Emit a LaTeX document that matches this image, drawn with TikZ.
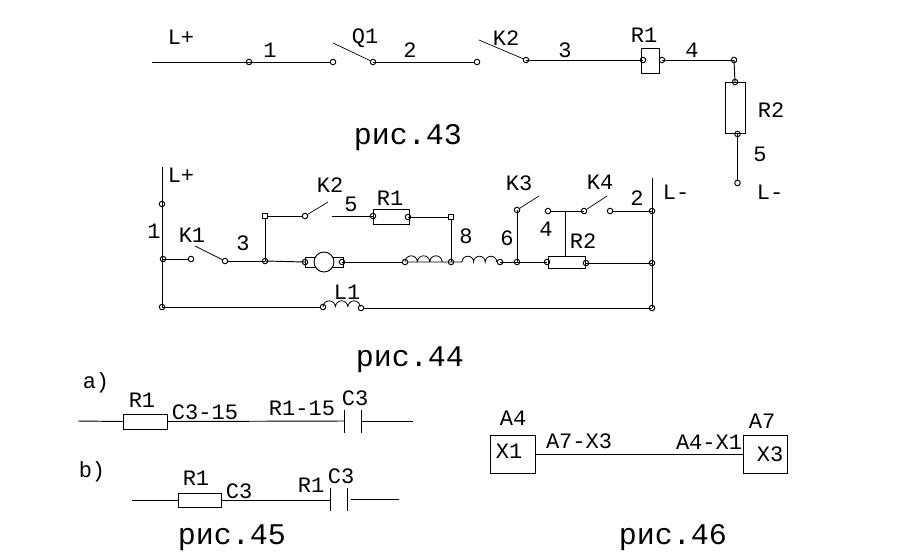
\documentclass[tikz,border=0pt]{standalone}
\usepackage{fontspec}
\setmainfont{Liberation Mono}
\usepackage{tikz}
\tikzset{
    term/.style={circle, draw, inner sep=0pt, minimum size=5.5pt},
    termsq/.style={rectangle, draw, fill=white, inner sep=0pt, minimum size=5pt},
    res/.style={rectangle, draw, inner sep=0pt},
    lbl/.style={inner sep=0pt, font=\fontsize{22}{24}\selectfont},
    figcap/.style={inner sep=0pt, font=\fontsize{30}{34}\selectfont},
}
\begin{document}
\begin{tikzpicture}[x=1pt, y=-1pt, line width=0.95pt]
    \useasboundingbox (0,0) rectangle (897,557);

    % fig 43
    \coordinate (a0) at (152,62);
    \coordinate (aq) at (333,43);
    \coordinate (ak) at (479,40);
    \node[term] (a1) at (249,62) {};
    \node[term] (a2) at (333,62) {};
    \node[term] (a3) at (373,62) {};
    \node[term] (a4) at (477,62) {};
    \node[term] (a5) at (526,60) {};
    \node[res, minimum width=18, minimum height=25] (ar1) at (650,60.5) {};
    \node[term] (a6) at (643,60) {};
    \node[term] (a7) at (662,60) {};
    \node[term] (a8) at (734,60) {};
    \node[res, minimum width=20, minimum height=51] (ar2) at (735,108) {};
    \node[term] (a9) at (735,82) {};
    \node[term] (a10) at (737.5,134) {};
    \node[term] (a11) at (737.5,183) {};
    \draw (a0) -- (a1.center);
    \draw (a1.center) -- (a2);
    \draw (a3.center) -- (a4);
    \draw (a5.center) -- (a6.center);
    \draw (a7.center) -- (a8.center);
    \draw (a8.center) -- (a9.center);
    \draw (a10.center) -- (a11);
    \draw[line width=0.7pt] (aq) -- (a3);
    \draw[line width=0.7pt] (ak) -- (a5);
    \node[lbl] (la1) at (181,37) {L+};
    \node[lbl] (la2) at (270,50) {1};
    \node[lbl] (la3) at (365,38) {Q1};
    \node[lbl] (la4) at (410,50) {2};
    \node[lbl] (la5) at (506,38) {K2};
    \node[lbl] (la6) at (565,50) {3};
    \node[lbl] (la7) at (644,35) {R1};
    \node[lbl] (la8) at (692,50) {4};
    \node[lbl] (la9) at (771,110) {R2};
    \node[lbl] (la10) at (760,154) {5};
    \node[lbl] (la11) at (770,192) {L-};
    \node[figcap] (ca) at (408,138) {рис.43};

    % fig 44
    \coordinate (b0) at (162,167);
    \coordinate (c0) at (652,178);
    \coordinate (bk1) at (195,246);
    \coordinate (bk2) at (328,202);
    \coordinate (bk3) at (539,196);
    \coordinate (bk4) at (607,196);
    \coordinate (bs) at (332,216);
    \coordinate (bt) at (565,211);
    \node[term] (b1) at (162,204) {};
    \node[term] (b2) at (163,259) {};
    \node[term] (b3) at (162,307) {};
    \node[term] (b4) at (191,259) {};
    \node[term] (b5) at (225,261) {};
    \node[term] (b6) at (265,261) {};
    \node[termsq] (b7) at (265,216) {};
    \node[term] (b8) at (305,216) {};
    \node[res, minimum width=36, minimum height=15] (br1) at (391,216.5) {};
    \node[term] (b9) at (373,216) {};
    \node[term] (b10) at (408,217) {};
    \node[termsq] (b11) at (451,217) {};
    \node[term] (b12) at (451,262) {};
    \node[res, minimum width=38, minimum height=10] (bm) at (324,262) {};
    \node[circle, draw, fill=white, inner sep=0pt, minimum size=20] (bm1) at (324,262) {};
    \node[term] (b13) at (305,262) {};
    \node[term] (b14) at (342,262) {};
    \node[term] (b15) at (405,262) {};
    \node[term] (b16) at (500,262) {};
    \node[term] (b17) at (517,262) {};
    \node[term] (b18) at (517,210) {};
    \node[res, minimum width=37, minimum height=12] (br2) at (566.5,262) {};
    \node[term] (b19) at (547,262) {};
    \node[term] (b20) at (586,263) {};
    \node[term] (b21) at (652,263) {};
    \node[term] (b22) at (548,211) {};
    \node[term] (b23) at (584,211) {};
    \node[term] (b24) at (610,211) {};
    \node[term] (b25) at (652,211) {};
    \node[term] (b26) at (652,308) {};
    \node[term] (b27) at (323,307) {};
    \node[term] (b28) at (361,308) {};
    \draw (b0) -- (b3.center);
    \draw (c0) -- (b26.center);
    \draw (b2.center) -- (b4);
    \draw (b5) -- (b6.center);
    \draw (b6.center) -- (b7);
    \draw (b7) -- (b8);
    \draw (bs) -- (b9.center);
    \draw (b10.center) -- (b11);
    \draw (b11) -- (b12.center);
    \draw (b6.center) -- (b13.center);
    \draw (b14.center) -- (b15);
    \draw (b16.center) -- (b17.center);
    \draw (b17.center) -- (b18.center);
    \draw (b17.center) -- (b19.center);
    \draw (b20.center) -- (b21.center);
    \draw (b22) -- (b23.center);
    \draw (b24) -- (b25.center);
    \draw (bt) -- (br2.north -| bt);
    \draw (b3.center) -- (b27);
    \draw (b28) -- (b26.center);
    \draw[line width=0.7pt] (bk1) -- (b5);
    \draw[line width=0.7pt] (bk2) -- (b8);
    \draw[line width=0.7pt] (bk3) -- (b18);
    \draw[line width=0.7pt] (bk4) -- (b23);
    % coils
    \draw[line width=0.8pt] (b15) \foreach \i in {1,2,3} {arc (-180:0:6.2)} -- (b12.center);
    \draw[line width=0.8pt] (b12.center) -- ++(11,0) \foreach \i in {1,2,3} {arc (-180:0:5.8)};
    \draw[line width=0.8pt] (b27) \foreach \i in {1,2,3} {arc (-180:0:6.2)};
    \node[lbl] (lb1) at (181,175) {L+};
    \node[lbl] (lb2) at (154,231) {1};
    \node[lbl] (lb3) at (192,235) {K1};
    \node[lbl] (lb4) at (243,243) {3};
    \node[lbl] (lb5) at (330,185) {K2};
    \node[lbl] (lb6) at (351,204) {5};
    \node[lbl] (lb7) at (390,198) {R1};
    \node[lbl] (lb8) at (466,236) {8};
    \node[lbl] (lb9) at (519,183) {K3};
    \node[lbl] (lb10) at (507,238) {6};
    \node[lbl] (lb11) at (600,182) {K4};
    \node[lbl] (lb12) at (546,229) {4};
    \node[lbl] (lb13) at (583,241) {R2};
    \node[lbl] (lb14) at (637,198) {2};
    \node[lbl] (lb15) at (676,192) {L-};
    \node[lbl] (lb16) at (347,292) {L1};
    \node[figcap] (cb) at (410,360) {рис.44};

    % fig 45
    \coordinate (d0) at (78,421);
    \coordinate (d1) at (344,421);
    \coordinate (d2) at (361,421);
    \coordinate (d3) at (413,421);
    \coordinate (d4) at (344,410);
    \coordinate (d5) at (344,433);
    \coordinate (d6) at (361,410);
    \coordinate (d7) at (361,433);
    \node[res, minimum width=44, minimum height=15] (dr) at (145,421.5) {};
    \draw (d0) -- (dr.west);
    \draw (dr.east) -- (d1);
    \draw (d2) -- (d3);
    \draw (d4) -- (d5);
    \draw (d6) -- (d7);
    \node[lbl] (ld1) at (96,383) {a)};
    \node[lbl] (ld2) at (142,400) {R1};
    \node[lbl] (ld3) at (205,412) {C3-15};
    \node[lbl] (ld4) at (302,408) {R1-15};
    \node[lbl] (ld5) at (355,398) {C3};

    \coordinate (e0) at (132,500);
    \coordinate (e1) at (330,500);
    \coordinate (e2) at (351,499);
    \coordinate (e3) at (399,499);
    \coordinate (e4) at (330,488);
    \coordinate (e5) at (330,511);
    \coordinate (e6) at (347,488);
    \coordinate (e7) at (347,511);
    \node[res, minimum width=43, minimum height=14] (er) at (199.5,500) {};
    \draw (e0) -- (er.west);
    \draw (er.east) -- (e1);
    \draw (e2) -- (e3);
    \draw (e4) -- (e5);
    \draw (e6) -- (e7);
    \node[lbl] (le1) at (92,472) {b)};
    \node[lbl] (le2) at (196,478) {R1};
    \node[lbl] (le3) at (239,491) {C3};
    \node[lbl] (le4) at (311,485) {R1};
    \node[lbl] (le5) at (341,476) {C3};
    \node[figcap] (cd) at (232,538) {рис.45};

    % fig 46
    \node[res, minimum width=45, minimum height=38] (f1) at (512.5,454) {};
    \node[res, minimum width=44, minimum height=38] (f2) at (765,454) {};
    \draw (f1) -- (f2);
    \node[lbl] (lf1) at (513,418) {A4};
    \node[lbl] (lf2) at (509,451) {X1};
    \node[lbl] (lf3) at (762,421) {A7};
    \node[lbl] (lf4) at (770,454) {X3};
    \node[lbl] (lf5) at (579,441) {A7-X3};
    \node[lbl] (lf6) at (709,442) {A4-X1};
    \node[figcap] (cf) at (673,538) {рис.46};
\end{tikzpicture}
\end{document}
